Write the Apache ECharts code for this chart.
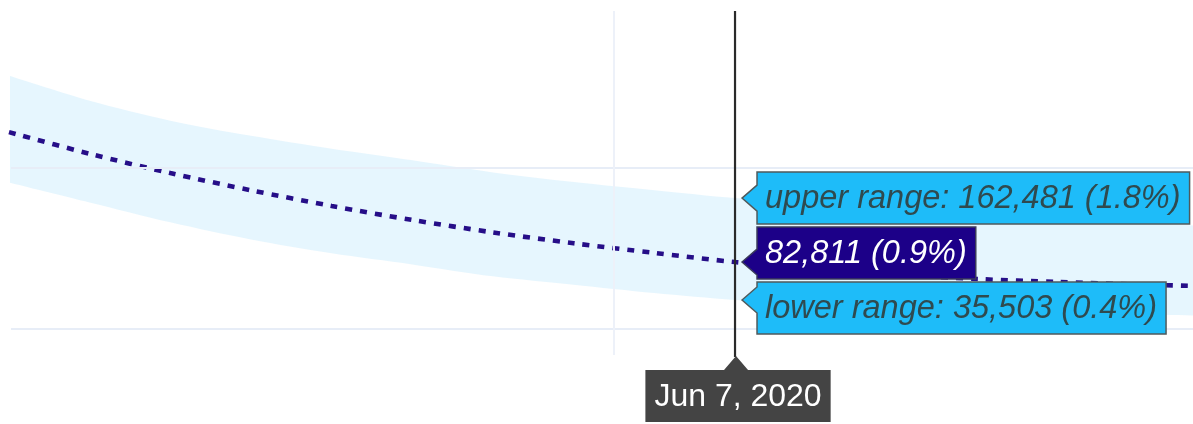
<!DOCTYPE html>
<html>
<head>
<meta charset="utf-8">
<script src="https://cdn.jsdelivr.net/npm/echarts@6/dist/echarts.min.js"></script>
<style>
html,body{margin:0;padding:0;background:#ffffff;}
#chart{width:1193px;height:424px;}
</style>
</head>
<body>
<div id="chart"></div>
<script>
// ---- data ----
const dates = ['2020-05-02','2020-05-06','2020-05-10','2020-05-14','2020-05-18','2020-05-22','2020-05-26','2020-05-30','2020-06-03','2020-06-07','2020-06-11','2020-06-15','2020-06-19','2020-06-23','2020-06-27','2020-07-01'];
const projected  = [244700,217700,193700,172200,152700,135200,119700,106200,94200,82811,74800,67300,61700,57900,54800,52300];
const upperRange = [315000,283800,259000,240100,224000,209500,194500,182500,172300,162481,155500,149000,143000,137500,132000,126500];
const lowerRange = [182000,157100,132300,110900,93800,79900,65000,54500,44100,35503,31000,27000,23500,20500,17800,15500];
const selectedDate = '2020-06-07';
const selectedDateLabel = 'Jun 7, 2020';
const calloutPrefixes = ['upper range: ', '', 'lower range: '];
const selectedShares = ['1.8%', '0.9%', '0.4%'];
const yGridValues = [0, 200000];
const xGridDates = ['2020-06-01'];

// ---- helpers ----
const t = d => Date.parse(d);
const selIdx = dates.indexOf(selectedDate);
const Y_MIN = -33000, Y_MAX = 395600;
const FONT_FAMILY = '"Liberation Sans", Arial, sans-serif';
const measureCtx = document.createElement('canvas').getContext('2d');
function textWidth(str, font) { measureCtx.font = font; return measureCtx.measureText(str).width; }

const lineData  = dates.map((d, i) => [t(d), projected[i]]);
const lowerData = dates.map((d, i) => [t(d), lowerRange[i]]);
const bandData  = dates.map((d, i) => [t(d), upperRange[i] - lowerRange[i]]);

function renderOverlay(params, api) {
  const xd = t(selectedDate);
  const x0 = api.coord([xd, 0])[0];
  const yTop = api.coord([xd, Y_MAX])[1];
  const yBot = api.coord([xd, Y_MIN])[1];
  const vals = [upperRange[selIdx], projected[selIdx], lowerRange[selIdx]];
  const ys = vals.map(v => api.coord([xd, v])[1]);
  const children = [];

  // crosshair
  children.push({
    type: 'line',
    shape: { x1: x0, y1: yTop, x2: x0, y2: yBot + 2 },
    style: { stroke: '#2a2a2a', lineWidth: 2.2 }
  });

  // callouts
  const fill = ['#1ebcf9', '#1c0088', '#1ebcf9'];
  const textFill = ['#2f4a4f', '#ffffff', '#2f4a4f'];
  const stroke = ['#4f5a5c', '#3a3a5a', '#4f5a5c'];
  const font = 'italic 32.5px ' + FONT_FAMILY;
  const padL = 8, padR = 9, boxH = 52, gap = 3, tipDx = 7, arrowW = 15, arrowHalf = 13;
  const tipX = x0 + tipDx, bodyX = tipX + arrowW;
  let prevBottom = 0;
  for (let k = 0; k < 3; k++) {
    const txt = calloutPrefixes[k] + vals[k].toLocaleString('en-US') + ' (' + selectedShares[k] + ')';
    const w = textWidth(txt, font);
    const top = k === 0 ? ys[0] - boxH / 2 : prevBottom + gap;
    const bottom = top + boxH;
    const right = bodyX + padL + w + padR;
    const ty = Math.min(Math.max(ys[k], top + arrowHalf + 4), bottom - arrowHalf - 4);
    children.push({
      type: 'polygon',
      shape: { points: [[tipX, ty], [bodyX, ty - arrowHalf], [bodyX, top], [right, top], [right, bottom], [bodyX, bottom], [bodyX, ty + arrowHalf]] },
      style: { fill: fill[k], stroke: stroke[k], lineWidth: 1.5 }
    });
    children.push({
      type: 'text',
      style: { text: txt, x: bodyX + padL, y: top + boxH / 2 + 1, fill: textFill[k], font: font, align: 'left', verticalAlign: 'middle' }
    });
    prevBottom = bottom;
  }

  // date label
  const dFont = '32px ' + FONT_FAMILY;
  const dw = textWidth(selectedDateLabel, dFont) + 18;
  const dTop = yBot + 15, dH = 52;
  const dcx = x0 + 3;
  children.push({
    type: 'polygon',
    shape: { points: [[x0 + 1, yBot + 1], [x0 + 13, dTop], [dcx + dw / 2, dTop], [dcx + dw / 2, dTop + dH], [dcx - dw / 2, dTop + dH], [dcx - dw / 2, dTop], [x0 - 11, dTop]] },
    style: { fill: '#444444' }
  });
  children.push({
    type: 'text',
    style: { text: selectedDateLabel, x: dcx, y: dTop + dH / 2 + 1, fill: '#ffffff', font: dFont, align: 'center', verticalAlign: 'middle' }
  });

  return { type: 'group', children: children };
}

const chart = echarts.init(document.getElementById('chart'), null, { renderer: 'canvas' });
chart.setOption({
  animation: false,
  backgroundColor: '#ffffff',
  grid: { left: 11, right: 0, top: 11, bottom: 69 },
  xAxis: {
    type: 'time',
    show: false,
    min: Date.parse('2020-05-02T02:24:00Z'),
    max: Date.parse('2020-06-29T17:00:00Z')
  },
  yAxis: { type: 'value', show: false, min: Y_MIN, max: Y_MAX },
  series: [
    {
      name: 'gridlines',
      type: 'line',
      data: [],
      z: 1,
      silent: true,
      markLine: {
        silent: true,
        symbol: 'none',
        label: { show: false },
        animation: false,
        data: yGridValues.map(v => ({ yAxis: v, lineStyle: { color: '#e7edf7', width: 2, type: 'solid' } }))
          .concat(xGridDates.map(d => ({ xAxis: t(d), lineStyle: { color: '#edf1f9', width: 2, type: 'solid' } })))
      }
    },
    {
      name: 'lower',
      type: 'line',
      stack: 'band',
      data: lowerData,
      smooth: 0.3,
      symbol: 'none',
      z: 2,
      silent: true,
      lineStyle: { opacity: 0 }
    },
    {
      name: 'band',
      type: 'line',
      stack: 'band',
      data: bandData,
      smooth: 0.3,
      symbol: 'none',
      z: 2,
      silent: true,
      lineStyle: { opacity: 0 },
      areaStyle: { color: 'rgba(205,238,253,0.5)', opacity: 1 }
    },
    {
      name: 'projected',
      type: 'line',
      data: lineData,
      smooth: 0.3,
      symbol: 'none',
      z: 3,
      silent: true,
      lineStyle: { color: '#260e88', width: 4.6, type: [7, 8], cap: 'butt' }
    },
    {
      name: 'overlay',
      type: 'custom',
      z: 10,
      silent: true,
      data: [[t(selectedDate), projected[selIdx]]],
      renderItem: renderOverlay
    }
  ]
});
</script>
</body>
</html>
